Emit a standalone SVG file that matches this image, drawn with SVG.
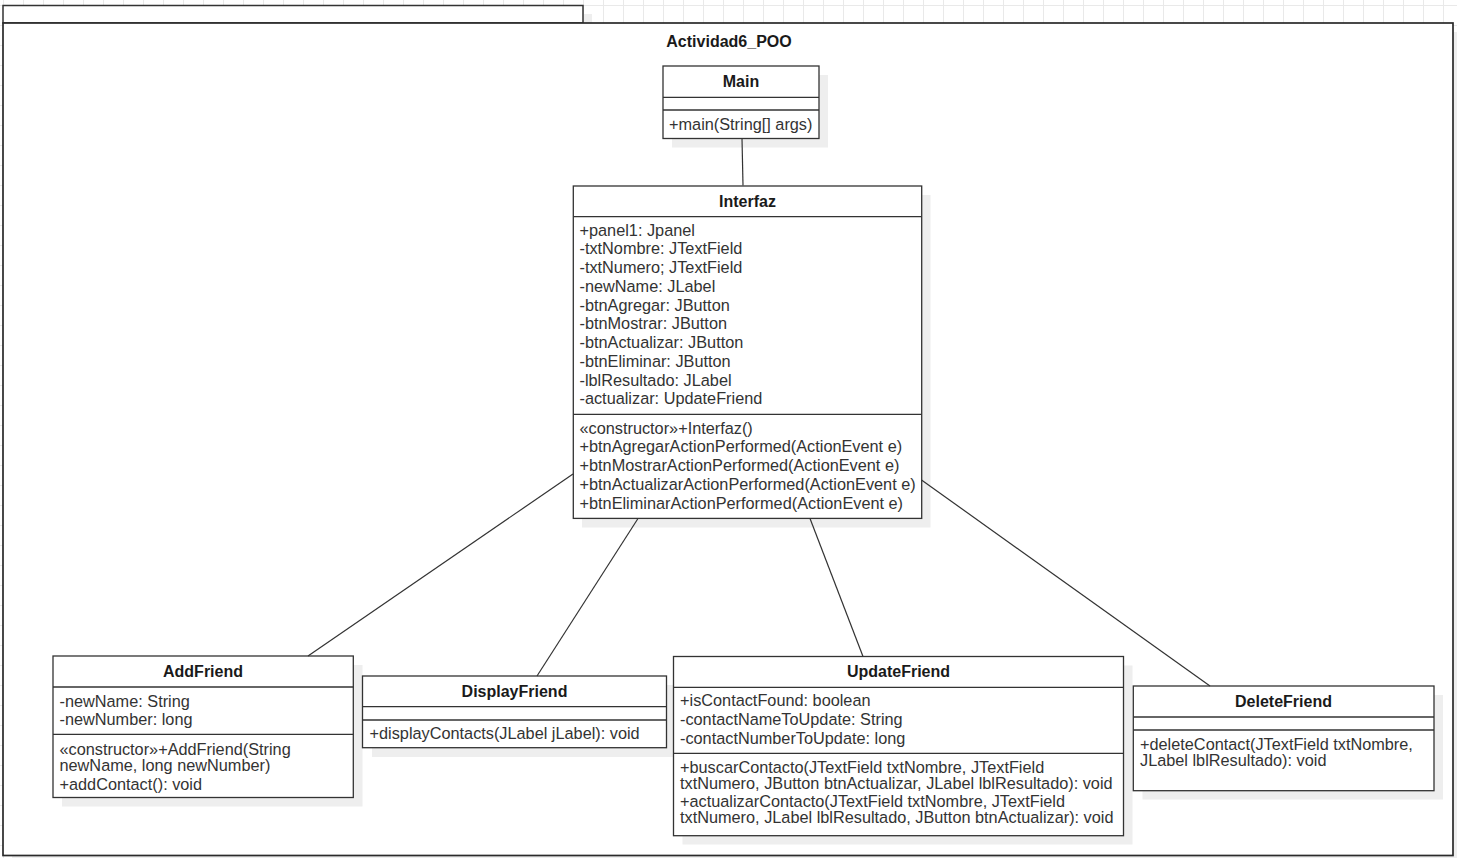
<svg xmlns="http://www.w3.org/2000/svg" width="1457" height="858" viewBox="0 0 1457 858">
  <style>
    .box { fill: #ffffff; stroke: #333333; stroke-width: 1.3; }
    .sh { fill: #eeeeee; stroke: none; }
    .sep { stroke: #333333; stroke-width: 1.3; }
    .hd { font-family: "Liberation Sans", Arial, sans-serif; font-size: 16px; font-weight: bold; fill: #1a1a1a; text-anchor: middle; }
    .tx { font-family: "Liberation Sans", Arial, sans-serif; font-size: 16.3px; fill: #333333; }
    .edge { stroke: #333333; stroke-width: 1.2; fill: none; }
  </style>
  <defs>
    <pattern id="grid" x="3" y="5" width="20" height="20" patternUnits="userSpaceOnUse">
      <path d="M0 0.5 H20 M0.5 0 V20" stroke="#e9e9e9" stroke-width="1" fill="none"/>
    </pattern>
  </defs>

  <!-- canvas grid -->
  <rect x="0" y="0" width="1457" height="858" fill="#ffffff"/>
  <rect x="0" y="0" width="1457" height="858" fill="url(#grid)"/>

  <!-- package frame -->
  <g id="package">
    <rect class="sh" x="12" y="14" width="580" height="18"/>
    <rect class="sh" x="12" y="32" width="1450" height="833"/>
    <rect x="3" y="5.5" width="580" height="17.5" fill="#ffffff" stroke="#333333" stroke-width="1.5"/>
    <rect x="3" y="23" width="1450" height="832.5" fill="#ffffff" stroke="#2a2a2a" stroke-width="1.7"/>
    <text class="hd" x="729" y="46.5">Actividad6_POO</text>
  </g>

  <g id="Main">
    <rect class="sh" x="672" y="75" width="156" height="72.5"/>
    <rect class="box" x="663" y="66" width="156" height="72.5"/>
    <line class="sep" x1="663" y1="97.3" x2="819" y2="97.3"/>
    <line class="sep" x1="663" y1="110" x2="819" y2="110"/>
    <text class="hd" x="741" y="86.7">Main</text>
    <text class="tx" x="669" y="129.5">+main(String[] args)</text>
  </g>

  <g id="Interfaz">
    <rect class="sh" x="582" y="195" width="348.5" height="332.5"/>
    <rect class="box" x="573.3" y="186" width="348.4" height="332.4"/>
    <line class="sep" x1="573.3" y1="216.7" x2="921.7" y2="216.7"/>
    <line class="sep" x1="573.3" y1="414.3" x2="921.7" y2="414.3"/>
    <text class="hd" x="747.5" y="206.7">Interfaz</text>
    <text class="tx" x="579.5" y="235.7">+panel1: Jpanel</text>
    <text class="tx" x="579.5" y="254.4">-txtNombre: JTextField</text>
    <text class="tx" x="579.5" y="273.2">-txtNumero; JTextField</text>
    <text class="tx" x="579.5" y="291.9">-newName: JLabel</text>
    <text class="tx" x="579.5" y="310.7">-btnAgregar: JButton</text>
    <text class="tx" x="579.5" y="329.4">-btnMostrar: JButton</text>
    <text class="tx" x="579.5" y="348.2">-btnActualizar: JButton</text>
    <text class="tx" x="579.5" y="366.9">-btnEliminar: JButton</text>
    <text class="tx" x="579.5" y="385.7">-lblResultado: JLabel</text>
    <text class="tx" x="579.5" y="404.4">-actualizar: UpdateFriend</text>
    <text class="tx" x="579.5" y="433.7">«constructor»+Interfaz()</text>
    <text class="tx" x="579.5" y="452.4">+btnAgregarActionPerformed(ActionEvent e)</text>
    <text class="tx" x="579.5" y="471.2">+btnMostrarActionPerformed(ActionEvent e)</text>
    <text class="tx" x="579.5" y="489.9">+btnActualizarActionPerformed(ActionEvent e)</text>
    <text class="tx" x="579.5" y="508.7">+btnEliminarActionPerformed(ActionEvent e)</text>
  </g>

  <g id="AddFriend">
    <rect class="sh" x="62" y="665" width="300.5" height="141.5"/>
    <rect class="box" x="53" y="656" width="300.3" height="141.5"/>
    <line class="sep" x1="53" y1="687" x2="353.3" y2="687"/>
    <line class="sep" x1="53" y1="734.3" x2="353.3" y2="734.3"/>
    <text class="hd" x="203" y="676.7">AddFriend</text>
    <text class="tx" x="59.5" y="706.5">-newName: String</text>
    <text class="tx" x="59.5" y="725">-newNumber: long</text>
    <text class="tx" x="59.5" y="754.8">«constructor»+AddFriend(String<tspan x="59.5" y="770.5">newName, long newNumber)</tspan></text>
    <text class="tx" x="59.5" y="789.5">+addContact(): void</text>
  </g>

  <g id="DisplayFriend">
    <rect class="sh" x="372" y="685" width="304" height="72"/>
    <rect class="box" x="362.5" y="676" width="304" height="71.7"/>
    <line class="sep" x1="362.5" y1="706.7" x2="666.5" y2="706.7"/>
    <line class="sep" x1="362.5" y1="720" x2="666.5" y2="720"/>
    <text class="hd" x="514.5" y="696.7">DisplayFriend</text>
    <text class="tx" x="369.5" y="738.8">+displayContacts(JLabel jLabel): void</text>
  </g>

  <g id="UpdateFriend">
    <rect class="sh" x="682.5" y="665.5" width="450" height="179"/>
    <rect class="box" x="673.5" y="656.5" width="450" height="179.2"/>
    <line class="sep" x1="673.5" y1="687.3" x2="1123.5" y2="687.3"/>
    <line class="sep" x1="673.5" y1="753.3" x2="1123.5" y2="753.3"/>
    <text class="hd" x="898.5" y="676.7">UpdateFriend</text>
    <text class="tx" x="680" y="706">+isContactFound: boolean</text>
    <text class="tx" x="680" y="724.8">-contactNameToUpdate: String</text>
    <text class="tx" x="680" y="743.5">-contactNumberToUpdate: long</text>
    <text class="tx" x="680" y="772.7">+buscarContacto(JTextField txtNombre, JTextField<tspan x="680" y="788.6">txtNumero, JButton btnActualizar, JLabel lblResultado): void</tspan></text>
    <text class="tx" x="680" y="807.3">+actualizarContacto(JTextField txtNombre, JTextField<tspan x="680" y="823.3">txtNumero, JLabel lblResultado, JButton btnActualizar): void</tspan></text>
  </g>

  <g id="DeleteFriend">
    <rect class="sh" x="1142.5" y="695" width="300.5" height="104.5"/>
    <rect class="box" x="1133.3" y="686" width="300.7" height="104.7"/>
    <line class="sep" x1="1133.3" y1="717" x2="1434" y2="717"/>
    <line class="sep" x1="1133.3" y1="730" x2="1434" y2="730"/>
    <text class="hd" x="1283.5" y="706.7">DeleteFriend</text>
    <text class="tx" x="1140" y="750">+deleteContact(JTextField txtNombre,<tspan x="1140" y="765.9">JLabel lblResultado): void</tspan></text>
  </g>

  <!-- associations, drawn last so they run over the drop shadows -->
  <g id="connectors">
    <line class="edge" x1="742" y1="138.5" x2="743" y2="185.5"/>
    <line class="edge" x1="573" y1="474" x2="308" y2="656"/>
    <line class="edge" x1="638" y1="518.5" x2="537" y2="676"/>
    <line class="edge" x1="810" y1="518.5" x2="863" y2="656.5"/>
    <line class="edge" x1="921.5" y1="480" x2="1210" y2="686"/>
  </g>
</svg>
